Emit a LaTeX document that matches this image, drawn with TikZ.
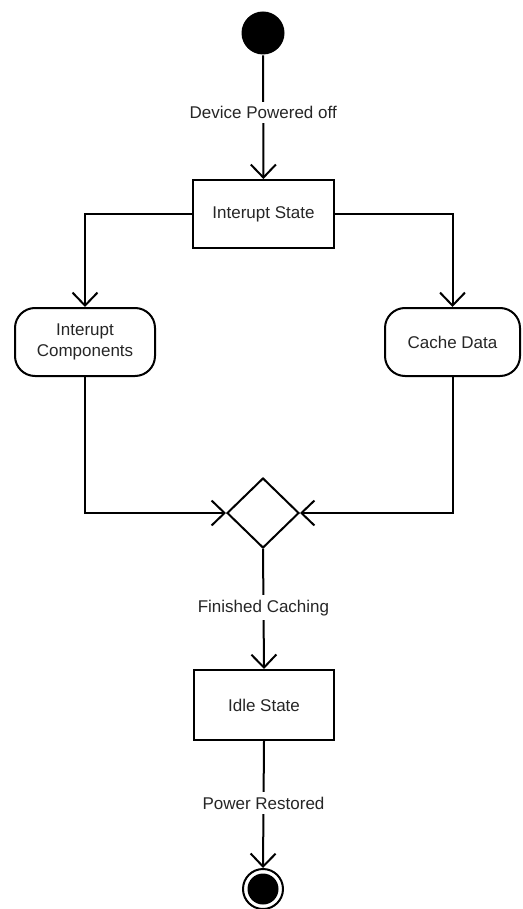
\documentclass[tikz,border=0pt]{standalone}
\usepackage{fontspec}
\setmainfont{Liberation Sans}
\usetikzlibrary{arrows.meta,shapes.geometric}
\begin{document}
\begin{tikzpicture}[x=1pt,y=-1pt,
  line width=2pt,
  txt/.style={font=\fontsize{17}{20}\selectfont, text=black!85},
  statebox/.style={draw, rectangle, txt, minimum width=140pt, minimum height=68pt, inner sep=0pt},
  actbox/.style={draw, rectangle, rounded corners=20pt, txt, minimum height=68pt, inner sep=0pt, align=center},
  lbl/.style={fill=white, txt, inner sep=4.5pt},
  arr/.style={-{Straight Barb[length=13pt,width=25pt]}}]
\useasboundingbox (0,0) rectangle (522,909);
\node[circle, fill=black, minimum size=43pt, inner sep=0pt] (start) at (263,33) {};
\node[statebox, minimum width=141pt] (is) at (263.5,214) {Interupt State};
\node[actbox, minimum width=140pt] (ic) at (85,342) {Interupt\\[1pt]Components};
\node[actbox, minimum width=135pt] (cd) at (452.5,342) {Cache Data};
\node[draw, diamond, minimum width=72pt, minimum height=70pt, inner sep=0pt] (dm) at (263,513) {};
\node[statebox, minimum height=70pt] (idle) at (264,705) {Idle State};
\node[circle, draw, line width=2pt, minimum size=40pt, inner sep=0pt] (end) at (263,889) {};
\node[circle, fill=black, minimum size=31pt, inner sep=0pt] (endin) at (263,889) {};
\draw[arr] (start) -- node[lbl, pos=0.46] {Device Powered off} (is);
\draw[arr] (is.west) -| (ic.north);
\draw[arr] (is.east) -| (cd.north);
\draw[arr] (ic.south) |- (dm.west);
\draw[arr] (cd.south) |- (dm.east);
\draw[arr] (dm.south) -- node[lbl, pos=0.49] {Finished Caching} (idle.north);
\draw[arr] (idle.south) -- node[lbl, pos=0.49] {Power Restored} (end.north);
\end{tikzpicture}
\end{document}
